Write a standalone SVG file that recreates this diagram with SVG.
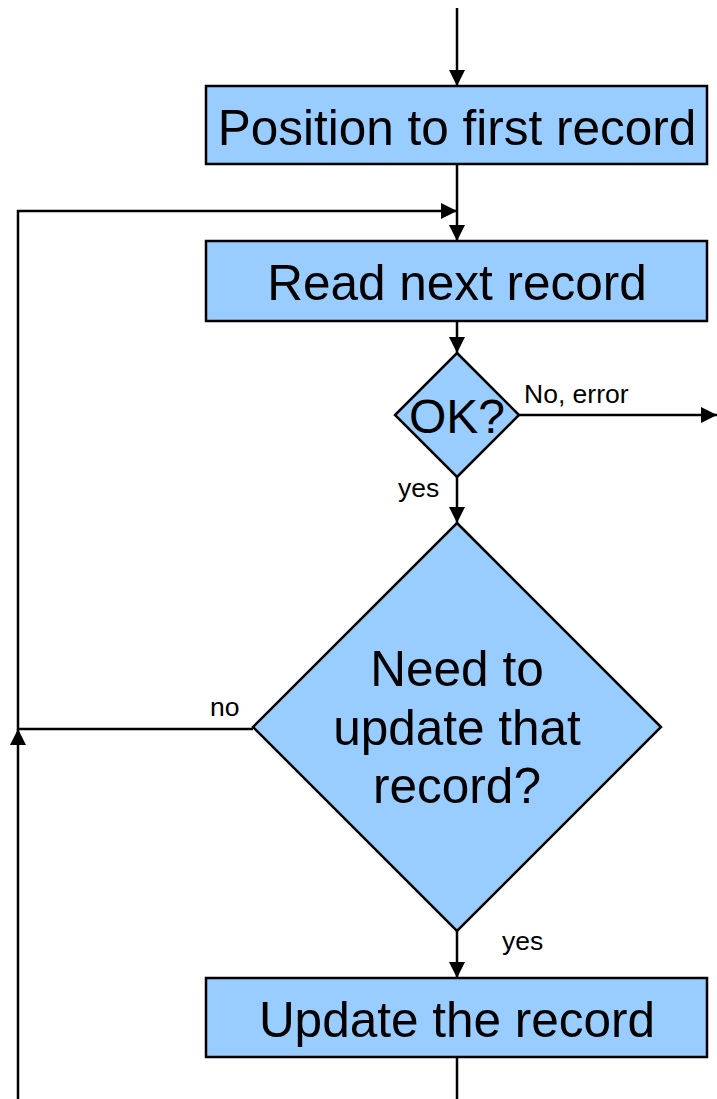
<svg xmlns="http://www.w3.org/2000/svg" width="717" height="1099" viewBox="0 0 717 1099">
<style>
.box{fill:#99CCFF;stroke:#000;stroke-width:2.5}
.big{font-family:"Liberation Sans",Arial,sans-serif;font-size:49.5px;fill:#000;text-anchor:middle}
.lbl{font-family:"Liberation Sans",Arial,sans-serif;font-size:26.5px;fill:#000}
.ln{fill:none;stroke:#000;stroke-width:2.5}
</style>
<defs>
<marker id="ah" markerUnits="userSpaceOnUse" markerWidth="16" markerHeight="16" viewBox="0 0 16 16" refX="16" refY="8" orient="auto">
<path d="M0,0 L16,8 L0,16 Z" fill="#000"/>
</marker>
</defs>
<rect width="717" height="1099" fill="#fff"/>
<g id="connectors">
<path class="ln" d="M457,8 V86" marker-end="url(#ah)"/>
<path class="ln" d="M457,164 V241" marker-end="url(#ah)"/>
<path class="ln" d="M457,321 V353" marker-end="url(#ah)"/>
<path class="ln" d="M518,415 H717" marker-end="url(#ah)"/>
<path class="ln" d="M457,477 V523" marker-end="url(#ah)"/>
<path class="ln" d="M253,729 H18 V211 H457" marker-end="url(#ah)"/>
<path class="ln" d="M18,1099 V729" marker-end="url(#ah)"/>
<path class="ln" d="M457,931 V978" marker-end="url(#ah)"/>
<path class="ln" d="M457,1057 V1099"/>
<text class="lbl" x="524" y="403">No, error</text>
<text class="lbl" x="398" y="497">yes</text>
<text class="lbl" x="210" y="716">no</text>
<text class="lbl" x="502" y="950">yes</text>
</g>
<g id="n1">
<rect class="box" x="206" y="86" width="501" height="78"/>
<text class="big" x="457" y="145">Position to first record</text>
</g>
<g id="n2">
<rect class="box" x="206" y="241" width="501" height="80"/>
<text class="big" x="457" y="300">Read next record</text>
</g>
<g id="n3">
<polygon class="box" points="457,353 519,415 457,477 395,415"/>
<text class="big" x="457" y="433" style="font-size:48px">OK?</text>
</g>
<g id="n4">
<polygon class="box" points="457,523 661,727 457,931 253,727"/>
<text class="big" x="457" y="686">Need to</text>
<text class="big" x="457" y="745">update that</text>
<text class="big" x="457" y="803">record?</text>
</g>
<g id="n5">
<rect class="box" x="206" y="978" width="501" height="79"/>
<text class="big" x="457" y="1037">Update the record</text>
</g>
</svg>
